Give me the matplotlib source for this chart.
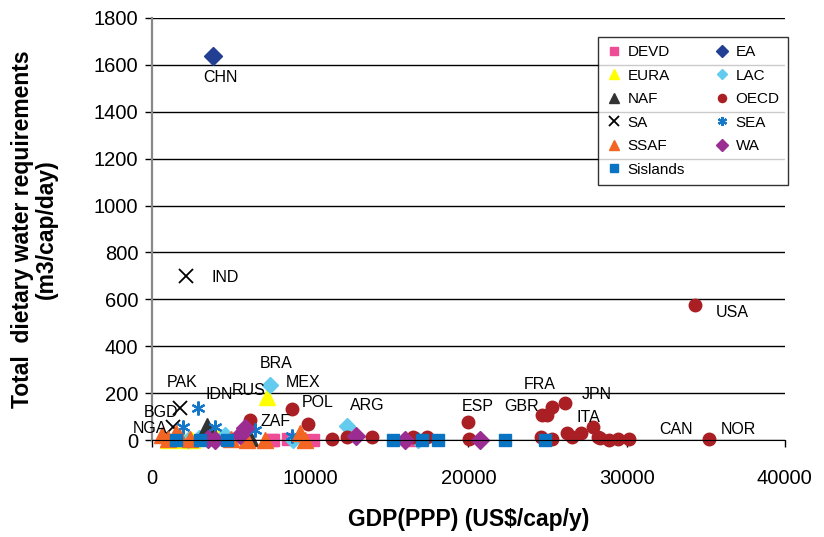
import matplotlib.pyplot as plt

plt.rcParams['font.family'] = ['Liberation Sans', 'DejaVu Sans']

# data per region group (GDP PPP, water requirement)
devd_x = [7600, 7660, 8600, 10190, 16460]
devd_y = [0, 0, 4, 0, 0]
ea_x = [3861]
ea_y = [1637]
eura_x = [7280, 1000, 1960, 2500, 3990]
eura_y = [183, 0, 0, 0, 40]
lac_x = [7470, 12340, 8920, 16840, 2280, 4620, 3000]
lac_y = [234, 60, 0, 0, 0, 21, 10]
naf_x = [3480, 6080, 6200]
naf_y = [60, 21, 10]
oecd_x = [34300, 35190, 8860, 9870, 11390, 12340, 13920, 16520, 17400, 20000, 20060,
          24680, 24940, 25300, 26080, 24560, 25250, 26200, 26520, 27090, 27850,
          28160, 28300, 28860, 29430, 30130, 6200]
oecd_y = [576, 4, 132, 68, 4, 13, 13, 13, 13, 77, 4,
          107, 107, 141, 158, 13, 4, 30, 13, 30, 55,
          13, 8, 0, 4, 4, 85]
sa_x = [2150, 1770, 1330]
sa_y = [699, 136, 55]
sea_x = [2910, 1960, 3990, 6520, 8860]
sea_y = [136, 55, 55, 43, 17]
ssaf_x = [600, 1000, 1500, 1770, 2400, 5000, 6010, 7150, 9370, 9680]
ssaf_y = [20, 5, 30, 10, 5, 5, 0, 0, 30, 0]
wa_x = [20700, 16010, 12910, 5890, 5570, 3540, 3990]
wa_y = [0, 0, 17, 51, 21, 4, 0]
sisl_x = [1520, 3040, 4750, 15250, 17090, 18100, 22280, 24810]
sisl_y = [0, 0, 0, 0, 0, 0, 0, 0]

labels = ['CHN', 'IND', 'USA', 'NOR', 'CAN', 'FRA', 'JPN', 'ESP', 'GBR', 'ITA', 'BRA',
          'RUS', 'MEX', 'POL', 'ARG', 'ZAF', 'PAK', 'IDN', 'BGD', 'NGA']
label_x = [4300, 4620, 36650, 37090, 33100, 24490, 28100, 20570, 23350, 27590, 7850,
           6140, 9560, 10440, 13600, 7780, 1900, 4240, 570, -130]
label_y = [1544, 695, 542, 43, 43, 235, 192, 145, 145, 98, 328,
           213, 247, 158, 149, 81, 247, 192, 119, 51]

fig = plt.figure(figsize=(8.24, 5.37), dpi=100)
ax = fig.add_axes([0.1845, 0.1806, 0.768, 0.786])

# drawing order as in the original spreadsheet chart
series = [
    ('DEVD', devd_x, devd_y, dict(marker='s', color='#EE4C97', ms=8)),
    ('EA', ea_x, ea_y, dict(marker='D', color='#223F94', ms=9)),
    ('EURA', eura_x, eura_y, dict(marker='^', color='#FFFF00', ms=11)),
    ('LAC', lac_x, lac_y, dict(marker='D', color='#62CBEE', ms=8)),
    ('NAF', naf_x, naf_y, dict(marker='^', color='#333333', ms=11)),
    ('OECD', oecd_x, oecd_y, dict(marker='o', color='#A91F24', ms=9)),
    ('SA', sa_x, sa_y, dict(marker='x', color='black', ms=10, mew=1.3)),
    ('SEA', sea_x, sea_y, dict(marker=(6, 2, 0), color='#1577C8', ms=10, mew=1.6)),
    ('SSAF', ssaf_x, ssaf_y, dict(marker='^', color='#F26522', ms=12)),
    ('WA', wa_x, wa_y, dict(marker='D', color='#9B2C91', ms=9)),
    ('Sislands', sisl_x, sisl_y, dict(marker='s', color='#0A74C2', ms=8)),
]
handles = {}
for name, xs, ys, st in series:
    h, = ax.plot(xs, ys, ls='none', clip_on=False, label=name, **st)
    handles[name] = h

for t, x, y in zip(labels, label_x, label_y):
    ax.text(x, y, t, fontsize=11.5, ha='center', va='center')

ax.set_xlim(0, 40000)
ax.set_ylim(0, 1800)
ax.set_xticks(range(0, 40001, 10000))
ax.set_yticks(range(0, 1801, 200))
ax.grid(axis='y', color='black', lw=1)
ax.set_axisbelow(True)
ax.tick_params(labelsize=14.5, direction='out', length=5, width=1)
ax.tick_params(axis='y', pad=5)
ax.tick_params(axis='x', pad=16)
for s in ['top', 'right']:
    ax.spines[s].set_visible(False)
ax.spines['left'].set_color('#888888')
ax.spines['left'].set_linewidth(1.6)
ax.spines['bottom'].set_color('black')

ax.set_xlabel('GDP(PPP) (US$/cap/y)', fontsize=16.5, fontweight='bold', labelpad=14)
ax.set_ylabel('Total  dietary water requirements\n(m3/cap/day)', fontsize=16.5,
              fontweight='bold', labelpad=26, linespacing=1.05)

order = ['DEVD', 'EURA', 'NAF', 'SA', 'SSAF', 'Sislands', 'EA', 'LAC', 'OECD', 'SEA', 'WA']
leg = ax.legend([handles[n] for n in order], order, ncol=2, loc='upper right',
                bbox_to_anchor=(1.005, 0.955), borderaxespad=0, fontsize=11,
                frameon=True, fancybox=False, edgecolor='black', markerscale=0.65,
                handlelength=1.0, handletextpad=0.4, columnspacing=1.9,
                labelspacing=0.62, borderpad=0.55)
leg.get_frame().set_linewidth(1.0)

fig.savefig('out.png', dpi=100)
